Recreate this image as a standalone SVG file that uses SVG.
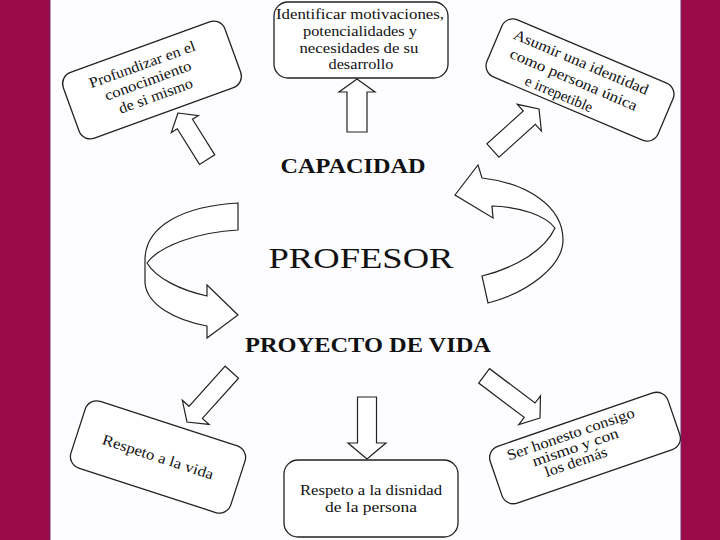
<svg xmlns="http://www.w3.org/2000/svg" width="720" height="540" viewBox="0 0 720 540">
<style>
.box{fill:#ffffff;stroke:#222;stroke-width:1.3}
.arr{fill:#ffffff;stroke:#222;stroke-width:1.2;stroke-linejoin:miter}
.t{font-family:'Liberation Serif','DejaVu Serif','Noto Serif',serif;font-size:15px;fill:#111;text-anchor:middle}
.h{font-family:'Liberation Serif','DejaVu Serif','Noto Serif',serif;font-weight:bold;font-size:20px;fill:#111;text-anchor:middle}
.p{font-family:'Liberation Serif','DejaVu Serif','Noto Serif',serif;font-size:30px;fill:#111;text-anchor:middle}
.band{fill:#9a0a48}
</style>
<rect x="0" y="0" width="720" height="540" fill="#fdfdff"/>
<rect class="band" x="0" y="0" width="50" height="540"/>
<rect class="band" x="681" y="0" width="39" height="540"/>
<line x1="50" y1="0" x2="50" y2="540" stroke="#6d2a6a" stroke-width="1"/>
<line x1="681" y1="0" x2="681" y2="540" stroke="#6d2a6a" stroke-width="1"/>

<g id="connectors">
  <polygon class="arr" points="0,0 18,13 10,13 10,53 -10,53 -10,13 -18,13" transform="translate(357,79)"/>
  <polygon class="arr" points="0,0 16,13 9,13 9,55 -9,55 -9,13 -16,13" transform="translate(178,113) rotate(-32)"/>
  <polygon class="arr" points="0,0 18,13 9,13 9,62 -9,62 -9,13 -18,13" transform="translate(539,109) rotate(48)"/>
  <polygon class="arr" points="0,0 18,13 9,13 9,67 -9,67 -9,13 -18,13" transform="translate(187,422) rotate(222)"/>
  <polygon class="arr" points="0,0 19,16 9.5,16 9.5,62 -9.5,62 -9.5,16 -19,16" transform="translate(367,459) rotate(180)"/>
  <polygon class="arr" points="0,0 18,13 9,13 9,70 -9,70 -9,13 -18,13" transform="translate(540,418) rotate(127)"/>
  <path class="arr" d="M238,203 C185,206 145,225 145,260 L145,283 C147,305 175,320 207,326 L207,338 L238,315 L207,285 L207,296 C180,290 156,278 147,263 C160,245 200,232 238,230 Z"/>
  <path class="arr" d="M488,303 C530,292 563,265 563,240 C563,205 525,183 482,178 L478,165 L455,195 L493,218 L492,206 C520,207 545,215 555,228 C545,250 515,268 482,276 Z"/>
</g>

<g id="node-capacidad">
  <text class="h" x="353" y="173" textLength="145" lengthAdjust="spacingAndGlyphs">CAPACIDAD</text>
</g>
<g id="node-profesor">
  <text class="p" x="361" y="268" textLength="185" lengthAdjust="spacingAndGlyphs">PROFESOR</text>
</g>
<g id="node-proyecto">
  <text class="h" x="368" y="352" textLength="246" lengthAdjust="spacingAndGlyphs">PROYECTO DE VIDA</text>
</g>

<g id="node-identificar">
  <rect class="box" x="274" y="2" width="174" height="76" rx="14"/>
  <text class="t" x="360" y="19" textLength="168" lengthAdjust="spacingAndGlyphs">Identificar motivaciones,</text>
  <text class="t" x="360" y="36" textLength="114" lengthAdjust="spacingAndGlyphs">potencialidades y</text>
  <text class="t" x="359" y="53" textLength="119" lengthAdjust="spacingAndGlyphs">necesidades de su</text>
  <text class="t" x="361" y="69" textLength="65" lengthAdjust="spacingAndGlyphs">desarrollo</text>
</g>

<g id="node-profundizar" transform="translate(152,80) rotate(-20)">
  <rect class="box" x="-86" y="-35" width="172" height="70" rx="12"/>
  <text class="t" x="-4" y="-13" textLength="112" lengthAdjust="spacingAndGlyphs">Profundizar en el</text>
  <text class="t" x="-4" y="4" textLength="91" lengthAdjust="spacingAndGlyphs">conocimiento</text>
  <text class="t" x="-2" y="21" textLength="78" lengthAdjust="spacingAndGlyphs">de si mismo</text>
</g>

<g id="node-asumir" transform="translate(580,80) rotate(23)">
  <rect class="box" x="-93" y="-31" width="186" height="62" rx="12"/>
  <text class="t" x="-6" y="-12" textLength="145" lengthAdjust="spacingAndGlyphs">Asumir una identidad</text>
  <text class="t" x="-6" y="7" textLength="137" lengthAdjust="spacingAndGlyphs">como persona única</text>
  <text class="t" x="-14" y="26" textLength="72" lengthAdjust="spacingAndGlyphs">e irrepetible</text>
</g>

<g id="node-respeto-vida" transform="translate(158,457) rotate(18)">
  <rect class="box" x="-84" y="-35" width="168" height="70" rx="12"/>
  <text class="t" x="0" y="5" textLength="116" lengthAdjust="spacingAndGlyphs">Respeto a la vida</text>
</g>

<g id="node-dignidad">
  <rect class="box" x="284" y="460" width="174" height="77" rx="14"/>
  <text class="t" x="371" y="495" textLength="142" lengthAdjust="spacingAndGlyphs">Respeto a la disnidad</text>
  <text class="t" x="371" y="512" textLength="92" lengthAdjust="spacingAndGlyphs">de la persona</text>
</g>

<g id="node-honesto" transform="translate(585,448) rotate(-19)">
  <rect class="box" x="-94" y="-30" width="188" height="60" rx="12"/>
  <text class="t" x="-9" y="-13" textLength="134" lengthAdjust="spacingAndGlyphs">Ser honesto consigo</text>
  <text class="t" x="-9" y="1" textLength="90" lengthAdjust="spacingAndGlyphs">mismo y con</text>
  <text class="t" x="-13" y="15" textLength="65" lengthAdjust="spacingAndGlyphs">los demás</text>
</g>
</svg>
